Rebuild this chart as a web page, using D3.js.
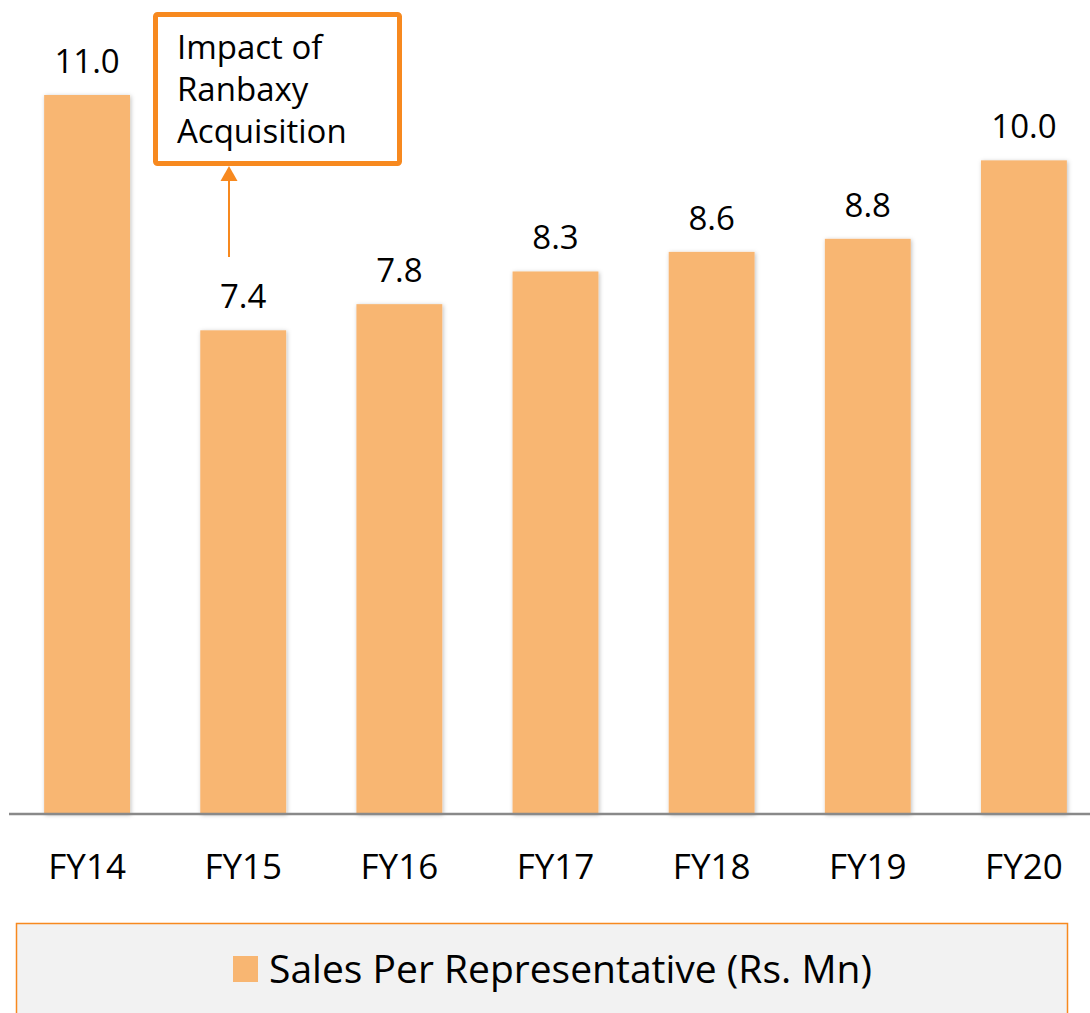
<!DOCTYPE html>
<html>
<head>
<meta charset="utf-8">
<script src="https://cdn.jsdelivr.net/npm/d3@7"></script>
<style>
  body { margin: 0; background: #fff; }
  text { font-family: "Open Sans", "Noto Sans", sans-serif; fill: #000; }
</style>
</head>
<body>
<div id="chart"></div>
<script>
let years = ["FY14", "FY15", "FY16", "FY17", "FY18", "FY19", "FY20"];
let salesPerRep = [11.0, 7.4, 7.8, 8.3, 8.6, 8.8, 10.0];
let seriesName = "Sales Per Representative (Rs. Mn)";
let noteLines = ["Impact of", "Ranbaxy", "Acquisition"];

let width = 1090, height = 1013;
let baseY = 814;
let orange = "#F7891F";
let barColor = "#F8B672";

let svg = d3.select("#chart")
    .append("svg")
    .attr("width", width)
    .attr("height", height);

// soft shadow like the original bars
let defs = svg.append("defs");
let f = defs.append("filter").attr("id", "shadow")
    .attr("x", "-10%").attr("y", "-5%").attr("width", "120%").attr("height", "110%");
f.append("feDropShadow").attr("dx", 1).attr("dy", 1).attr("stdDeviation", 2)
    .attr("flood-color", "#000").attr("flood-opacity", 0.25);

let x = d3.scaleBand().domain(years).range([9, 1102]).paddingInner(0.45).paddingOuter(0.225);
let y = d3.scaleLinear().domain([0, 11]).range([baseY, 95]);

let data = years.map((d, i) => ({ year: d, value: salesPerRep[i] }));

svg.append("g")
    .selectAll("rect")
    .data(data)
    .enter()
    .append("rect")
    .attr("x", d => x(d.year))
    .attr("y", d => y(d.value))
    .attr("width", x.bandwidth())
    .attr("height", d => baseY - y(d.value))
    .attr("fill", barColor)
    .attr("filter", "url(#shadow)");

// value labels
svg.append("g")
    .selectAll("text")
    .data(data)
    .enter()
    .append("text")
    .attr("x", d => x(d.year) + x.bandwidth() / 2)
    .attr("y", d => y(d.value) - 22)
    .attr("text-anchor", "middle")
    .attr("font-size", 33)
    .text(d => d.value.toFixed(1));

// baseline
svg.append("line")
    .attr("x1", 9).attr("x2", 1090)
    .attr("y1", baseY).attr("y2", baseY)
    .attr("stroke", "#898989")
    .attr("stroke-width", 2.5);

// category axis
let xAxis = svg.append("g")
    .attr("transform", `translate(0,${baseY})`)
    .call(d3.axisBottom(x).tickSize(0).tickPadding(40));
xAxis.select(".domain").remove();
xAxis.selectAll("text")
    .attr("font-size", 35)
    .attr("font-family", "'Open Sans', 'Noto Sans', sans-serif")
    .attr("fill", "#000");

// annotation box
let note = svg.append("g");
note.append("rect")
    .attr("x", 155.5).attr("y", 14.5)
    .attr("width", 244).attr("height", 149)
    .attr("rx", 2)
    .attr("fill", "#fff")
    .attr("stroke", orange)
    .attr("stroke-width", 5);
note.selectAll("text")
    .data(noteLines)
    .enter()
    .append("text")
    .attr("x", 177)
    .attr("y", (d, i) => 59 + i * 42)
    .attr("font-size", 33)
    .text(d => d);

// arrow up from FY15 label to box
let arrowX = 229;
note.append("line")
    .attr("x1", arrowX).attr("x2", arrowX)
    .attr("y1", 257).attr("y2", 178)
    .attr("stroke", orange)
    .attr("stroke-width", 2);
note.append("path")
    .attr("d", `M${arrowX - 8.5},181 L${arrowX},166 L${arrowX + 8.5},181 Z`)
    .attr("fill", orange);

// legend
let legend = svg.append("g");
legend.append("rect")
    .attr("x", 16.5).attr("y", 923.5)
    .attr("width", 1051).attr("height", 100)
    .attr("fill", "#F2F2F2")
    .attr("stroke", orange)
    .attr("stroke-width", 1.5);
legend.append("rect")
    .attr("x", 233).attr("y", 956)
    .attr("width", 25).attr("height", 26)
    .attr("fill", barColor);
legend.append("text")
    .attr("x", 269)
    .attr("y", 983)
    .attr("font-size", 39)
    .text(seriesName);
</script>
</body>
</html>
